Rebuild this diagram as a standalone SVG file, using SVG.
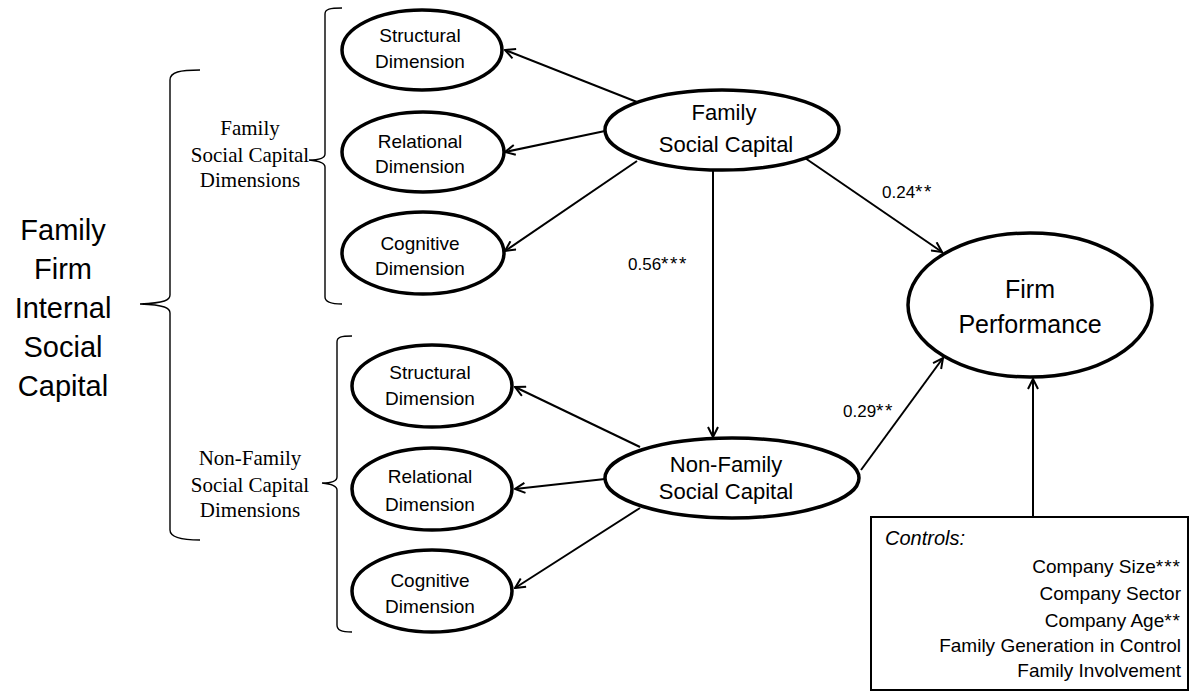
<svg xmlns="http://www.w3.org/2000/svg" width="1193" height="691" viewBox="0 0 1193 691">
<defs>
<marker id="arr" viewBox="0 0 12 12" refX="11" refY="6" markerWidth="12" markerHeight="12" markerUnits="userSpaceOnUse" orient="auto">
<path d="M1,1 L11,6 L1,11" fill="none" stroke="#000" stroke-width="2"/>
</marker>
<style>
.el{fill:#fff;stroke:#000;stroke-width:3.5}
.s{font-family:"Liberation Sans",Arial,sans-serif;fill:#000;text-anchor:middle}
.d{font-size:19px}
.b{font-size:22px}
.t{font-family:"Liberation Serif","Times New Roman",serif;font-size:21px;fill:#000;text-anchor:middle}
.br{fill:none;stroke:#000;stroke-width:1.4}
.c{fill:none;stroke:#000;stroke-width:2;marker-end:url(#arr)}
.lbl{font-family:"Liberation Sans",Arial,sans-serif;font-size:17px;fill:#000}
.ast{font-size:19px;letter-spacing:1.5px}
.ct{font-family:"Liberation Sans",Arial,sans-serif;font-size:19px;fill:#000;text-anchor:end}
</style>
</defs>
<rect width="1193" height="691" fill="#fff"/>

<g id="title">
<text class="s" style="font-size:29px" x="63" y="240">Family</text>
<text class="s" style="font-size:29px" x="63" y="279">Firm</text>
<text class="s" style="font-size:29px" x="63" y="318">Internal</text>
<text class="s" style="font-size:29px" x="63" y="357">Social</text>
<text class="s" style="font-size:29px" x="63" y="396">Capital</text>
</g>

<g id="brackets">
<path class="br" d="M200,70 C180,70 170,72 170,80 L170,295 C170,300 165,303 140,304 C165,305 170,308 170,313 L170,530 C170,537 180,540 200,540"/>
<path class="br" d="M342,8 C330,8 325,9 325,14 L325,154 C325,158 320,160 309,160 C320,161 325,163 325,167 L325,297 C325,302 330,304 342,304"/>
<path class="br" d="M352,336 C341,336 337,337 337,342 L337,477 C337,481 332,483 322,483 C332,484 337,486 337,490 L337,625 C337,630 341,632 352,632"/>
</g>

<g id="fsc-dims-label">
<text class="t" x="250" y="135">Family</text>
<text class="t" x="250" y="162">Social Capital</text>
<text class="t" x="250" y="187">Dimensions</text>
</g>
<g id="nfsc-dims-label">
<text class="t" x="250" y="465">Non-Family</text>
<text class="t" x="250" y="492">Social Capital</text>
<text class="t" x="250" y="517">Dimensions</text>
</g>

<g id="connectors">
<line class="c" x1="637" y1="102" x2="505" y2="50"/>
<line class="c" x1="605" y1="131" x2="505" y2="152"/>
<line class="c" x1="637" y1="161" x2="505" y2="251"/>
<line class="c" x1="713" y1="170" x2="713" y2="437"/>
<line class="c" x1="805" y1="158" x2="942" y2="252"/>
<line class="c" x1="861" y1="470" x2="943" y2="358"/>
<line class="c" x1="640" y1="447" x2="515" y2="387"/>
<line class="c" x1="605" y1="479" x2="515" y2="489"/>
<line class="c" x1="640" y1="508" x2="515" y2="588"/>
<line class="c" x1="1033" y1="517" x2="1033" y2="379"/>
</g>

<g id="labels">
<text class="lbl" x="628" y="270">0.56<tspan class="ast">***</tspan></text>
<text class="lbl" x="882" y="198">0.24<tspan class="ast">**</tspan></text>
<text class="lbl" x="843" y="417">0.29<tspan class="ast">**</tspan></text>
</g>

<g id="fsc-structural">
<ellipse class="el" cx="422" cy="50" rx="80" ry="40"/>
<text class="s d" x="420" y="42">Structural</text>
<text class="s d" x="420" y="68">Dimension</text>
</g>
<g id="fsc-relational">
<ellipse class="el" cx="423" cy="152" rx="81" ry="40"/>
<text class="s d" x="420" y="148">Relational</text>
<text class="s d" x="420" y="173">Dimension</text>
</g>
<g id="fsc-cognitive">
<ellipse class="el" cx="423" cy="253" rx="81" ry="41"/>
<text class="s d" x="420" y="250">Cognitive</text>
<text class="s d" x="420" y="275">Dimension</text>
</g>

<g id="nfsc-structural">
<ellipse class="el" cx="432" cy="386" rx="80" ry="41"/>
<text class="s d" x="430" y="379">Structural</text>
<text class="s d" x="430" y="405">Dimension</text>
</g>
<g id="nfsc-relational">
<ellipse class="el" cx="432" cy="489" rx="80" ry="41"/>
<text class="s d" x="430" y="483">Relational</text>
<text class="s d" x="430" y="511">Dimension</text>
</g>
<g id="nfsc-cognitive">
<ellipse class="el" cx="432" cy="591" rx="80" ry="41"/>
<text class="s d" x="430" y="587">Cognitive</text>
<text class="s d" x="430" y="613">Dimension</text>
</g>

<g id="family-social-capital">
<ellipse class="el" cx="722" cy="130" rx="117" ry="40"/>
<text class="s b" x="724" y="120">Family</text>
<text class="s b" x="726" y="152">Social Capital</text>
</g>

<g id="non-family-social-capital">
<ellipse class="el" cx="732" cy="478" rx="127" ry="40"/>
<text class="s b" x="726" y="472">Non-Family</text>
<text class="s b" x="726" y="499">Social Capital</text>
</g>

<g id="firm-performance">
<ellipse class="el" cx="1030" cy="305" rx="122" ry="72"/>
<text class="s" style="font-size:25px" x="1030" y="298">Firm</text>
<text class="s" style="font-size:25px" x="1030" y="333">Performance</text>
</g>

<g id="controls">
<rect x="871" y="517" width="317" height="173" fill="#fff" stroke="#000" stroke-width="2"/>
<text x="885" y="545" style="font-family:'Liberation Sans',Arial,sans-serif;font-size:20px;font-style:italic">Controls:</text>
<text class="ct" x="1181" y="573">Company Size<tspan letter-spacing="1">***</tspan></text>
<text class="ct" x="1181" y="600">Company Sector</text>
<text class="ct" x="1181" y="627">Company Age<tspan letter-spacing="1">**</tspan></text>
<text class="ct" x="1181" y="652">Family Generation in Control</text>
<text class="ct" x="1181" y="677">Family Involvement</text>
</g>
</svg>
